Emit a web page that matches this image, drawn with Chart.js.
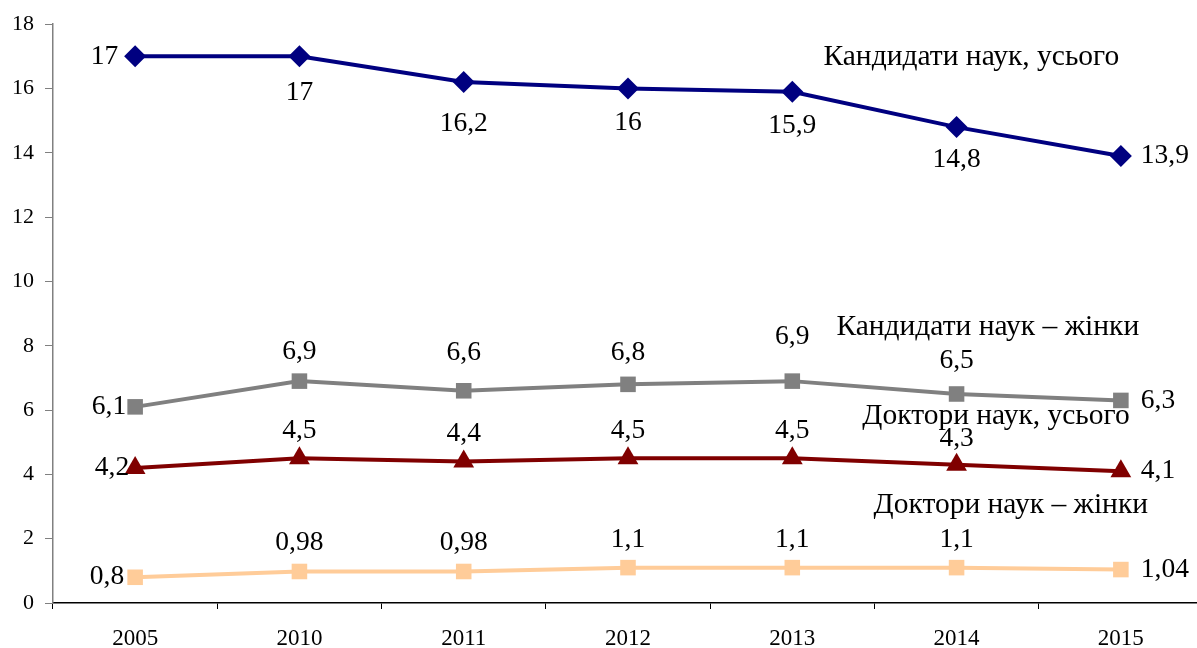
<!DOCTYPE html>
<html>
<head>
<meta charset="utf-8">
<script src="https://cdn.jsdelivr.net/npm/chart.js@4/dist/chart.umd.min.js"></script>
<style>
  html, body { margin: 0; padding: 0; background: #fff; overflow: hidden; }
  #wrap { width: 1203px; height: 648px; }
</style>
</head>
<body>
<div id="wrap"><canvas id="chart"></canvas></div>
<script>
// Data
const years = ['2005', '2010', '2011', '2012', '2013', '2014', '2015'];
const candTotal = [17, 17, 16.2, 16, 15.9, 14.8, 13.9];
const candWomen = [6.1, 6.9, 6.6, 6.8, 6.9, 6.5, 6.3];
const docTotal = [4.2, 4.5, 4.4, 4.5, 4.5, 4.3, 4.1];
const docWomen = [0.8, 0.98, 0.98, 1.1, 1.1, 1.1, 1.04];
const seriesNames = ['Кандидати наук, усього', 'Кандидати наук – жінки', 'Доктори наук, усього', 'Доктори наук – жінки'];

const FONT = "'Liberation Serif', 'Times New Roman', serif";

// value label placement per point: [dx, dy, align]
const L = (dx) => [dx, 0, 'right'];
const R = [20, 0, 'left'];
const U = (dy) => [0, dy, 'center'];
const labelPos = [
  [L(-17), U(36), U(42), U(34), U(34), U(33), R],
  [L(-9), U(-29), U(-38), U(-32), U(-44), U(-33), R],
  [L(-6), U(-28), U(-28), U(-28), U(-28), U(-26), R],
  [L(-11), U(-29), U(-29), U(-28), U(-28), U(-28), R]
];
// series name anchors, in (category index, value)
const nameAnchors = [[5.09, 16.97], [5.19, 8.58], [5.24, 5.80], [5.33, 3.05]];

// -------------------------------------------------------------
// Draw value labels and series names
// -------------------------------------------------------------
const textPlugin = {
  id: 'textPlugin',
  afterDatasetsDraw(chart) {
    const ctx = chart.ctx;
    ctx.save();
    ctx.fillStyle = '#000';
    ctx.textBaseline = 'middle';
    ctx.font = '27.5px ' + FONT;
    chart.data.datasets.forEach((ds, i) => {
      const meta = chart.getDatasetMeta(i);
      meta.data.forEach((pt, j) => {
        const p = labelPos[i][j];
        ctx.textAlign = p[2];
        ctx.fillText(String(ds.data[j]).replace('.', ','), pt.x + p[0], pt.y + p[1]);
      });
    });
    const xs = chart.scales.x, ys = chart.scales.y;
    ctx.font = '29.5px ' + FONT;
    ctx.textAlign = 'center';
    seriesNames.forEach((name, i) => {
      const a = nameAnchors[i];
      ctx.fillText(name, xs.getPixelForValue(a[0]), ys.getPixelForValue(a[1]));
    });
    ctx.restore();
  }
};

function ds(data, color, style, radius) {
  return {
    data: data,
    borderColor: color,
    backgroundColor: color,
    borderWidth: 4,
    pointStyle: style,
    pointRadius: radius,
    pointBorderWidth: 0,
    pointBackgroundColor: color,
    tension: 0,
    clip: false
  };
}

new Chart(document.getElementById('chart'), {
  type: 'line',
  data: {
    labels: years,
    datasets: [
      ds(candTotal, '#000080', 'rectRot', 11),
      ds(candWomen, '#808080', 'rect', 11),
      ds(docTotal, '#800000', 'triangle', 12),
      ds(docWomen, '#FFCC99', 'rect', 11)
    ]
  },
  options: {
    responsive: true,
    maintainAspectRatio: false,
    animation: false,
    layout: { autoPadding: false, padding: { top: 24, right: 0, left: 0, bottom: 0 } },
    plugins: { legend: { display: false }, tooltip: { enabled: false } },
    scales: {
      x: {
        offset: true,
        border: { color: '#000', width: 1.5 },
        grid: { offset: true, drawOnChartArea: false, drawTicks: true, tickLength: 6, color: '#000' },
        ticks: { color: '#000', font: { family: FONT, size: 23 }, padding: 16, maxRotation: 0 },
        afterFit(scale) {
          scale.height = 45;
          scale.paddingLeft = 0;
          scale.paddingRight = 0;
        }
      },
      y: {
        min: 0,
        max: 18,
        border: { color: '#808080', width: 1.5 },
        grid: { drawOnChartArea: false, drawTicks: true, tickLength: 8, color: '#808080' },
        ticks: { stepSize: 2, color: '#000', font: { family: FONT, size: 22 }, padding: 11 },
        afterFit(scale) { scale.width = 53; }
      }
    }
  },
  plugins: [textPlugin]
});
</script>
</body>
</html>
